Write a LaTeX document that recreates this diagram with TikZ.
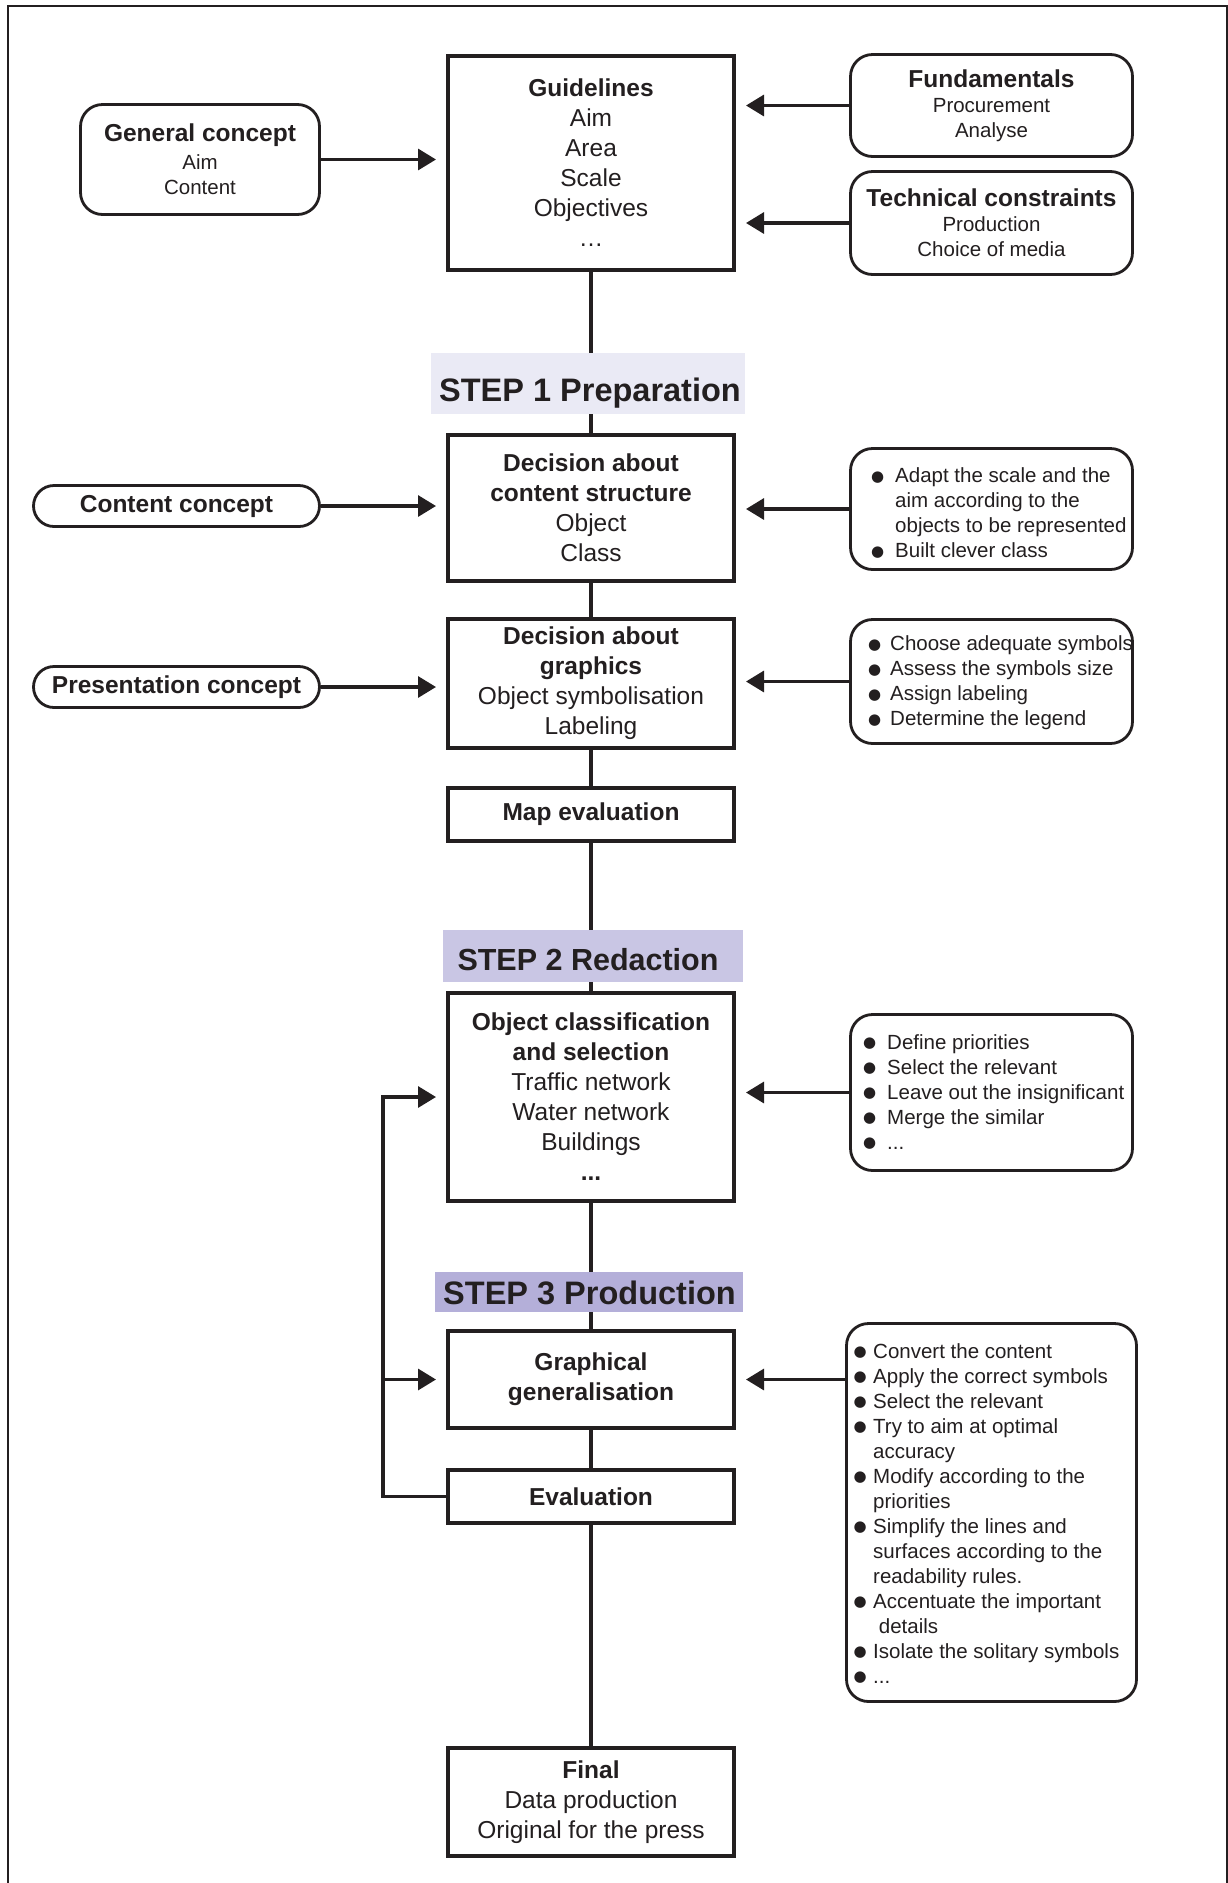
\documentclass[tikz,border=0pt]{standalone}
\usepackage{fontspec}
\setmainfont{Liberation Sans}
\newfontfamily\symfont{DejaVu Sans}
\usetikzlibrary{arrows.meta}
\definecolor{ink}{RGB}{35,31,32}
\definecolor{stepA}{RGB}{234,234,245}
\definecolor{stepB}{RGB}{201,198,228}
\definecolor{stepC}{RGB}{180,175,217}
\newcommand\mfont{\fontsize{24.5}{30}\selectfont}
\newcommand\sfontA{\fontsize{20.5}{25}\selectfont}
\newcommand\hdr[1]{{\bfseries\fontsize{24.5}{25}\selectfont #1}}
\newcommand\bul[1]{\makebox[#1][l]{\raisebox{1.5pt}{\symfont\fontsize{15}{15}\selectfont ●}}}
\begin{document}
\begin{tikzpicture}[x=1pt,y=-1pt,
  mainbox/.style={draw=ink, line width=4pt, fill=white, minimum width=286pt, inner sep=0pt, align=center, font=\mfont, text=ink},
  sidebox/.style={draw=ink, line width=2.8pt, fill=white, rounded corners=22pt, inner sep=0pt, align=center, font=\sfontA, text=ink},
  pillbox/.style={draw=ink, line width=2.8pt, fill=white, rounded corners=20.5pt, inner sep=0pt, minimum width=286pt, minimum height=41pt, font=\bfseries\mfont, text=ink},
  listtext/.style={anchor=west, inner sep=0pt, font=\sfontA, align=left, text=ink},
  conn/.style={draw=ink, line width=3.2pt},
  arr/.style={conn, -{Triangle[length=18pt,width=21pt]}, shorten >=10pt},
  steprect/.style={inner sep=0pt, draw=none},
  steptext/.style={inner sep=0pt, text=ink, text depth=0pt, anchor=center}
]
\useasboundingbox (0,0) rectangle (1228,1883);
% outer frame
\draw[ink, line width=2.5pt] (8,1895) -- (8,6) -- (1227,6) -- (1227,1895);

% main column
\node[mainbox, minimum height=214pt] (guide) at (591,163)
  {\textbf{Guidelines}\\Aim\\Area\\Scale\\Objectives\\…};
\node[mainbox, minimum height=146pt] (dec1) at (591,508)
  {\textbf{Decision about}\\\textbf{content structure}\\Object\\Class};
\node[mainbox, minimum height=129pt] (dec2) at (591,683.5)
  {\textbf{Decision about}\\\textbf{graphics}\\Object symbolisation\\Labeling};
\node[mainbox, minimum height=53pt] (map) at (591,814.5) {\textbf{Map evaluation}};
\node[mainbox, minimum height=208pt] (oc) at (591,1097)
  {\textbf{Object classification}\\\textbf{and selection}\\Traffic network\\Water network\\Buildings\\\textbf{...}};
\node[mainbox, minimum height=97pt] (gg) at (591,1379.5)
  {\textbf{Graphical}\\\textbf{generalisation}};
\node[mainbox, minimum height=53pt] (ev) at (591,1496.5) {\textbf{Evaluation}};
\node[mainbox, minimum height=108pt] (fin) at (591,1802)
  {\textbf{Final}\\Data production\\Original for the press};

% left boxes
\node[sidebox, minimum width=239pt, minimum height=110pt] (gc) at (200,159.5)
  {\hdr{General concept}\\[3pt]Aim\\Content};
\node[pillbox] (cc) at (176.5,506) {Content concept};
\node[pillbox] (pc) at (176.5,687) {Presentation concept};

% right boxes
\node[sidebox, minimum width=282pt, minimum height=102pt] (fund) at (991.5,105.5)
  {\hdr{Fundamentals}\\Procurement\\Analyse};
\node[sidebox, minimum width=282pt, minimum height=103pt] (tech) at (991.5,223)
  {\hdr{Technical constraints}\\Production\\Choice of media};
\node[sidebox, minimum width=282pt, minimum height=121pt] (b1) at (991.5,509) {};
\node[sidebox, minimum width=282pt, minimum height=124pt] (b2) at (991.5,681.5) {};
\node[sidebox, minimum width=282pt, minimum height=156pt] (b3) at (991.5,1092.5) {};
\node[sidebox, minimum width=290pt, minimum height=378pt] (b4) at (991.5,1512.5) {};

\node[listtext] (b1t) at (871,515) {\begin{tabular}{@{}l@{}l@{}}
\bul{24pt} & Adapt the scale and the\\
 & aim according to the\\
 & objects to be represented\\
\bul{24pt} & Built clever class
\end{tabular}};
\node[listtext] (b2t) at (868,683) {\begin{tabular}{@{}l@{}l@{}}
\bul{22pt} & Choose adequate symbols\\
\bul{22pt} & Assess the symbols size\\
\bul{22pt} & Assign labeling\\
\bul{22pt} & Determine the legend
\end{tabular}};
\node[listtext] (b3t) at (863,1094) {\begin{tabular}{@{}l@{}l@{}}
\bul{24pt} & Define priorities\\
\bul{24pt} & Select the relevant\\
\bul{24pt} & Leave out the insignificant\\
\bul{24pt} & Merge the similar\\
\bul{24pt} & ...
\end{tabular}};
\node[listtext] (b4t) at (853.5,1515.5) {\begin{tabular}{@{}l@{}l@{}}
\bul{19.5pt} & Convert the content\\
\bul{19.5pt} & Apply the correct symbols\\
\bul{19.5pt} & Select the relevant\\
\bul{19.5pt} & Try to aim at optimal\\
 & accuracy\\
\bul{19.5pt} & Modify according to the\\
 & priorities\\
\bul{19.5pt} & Simplify the lines and\\
 & surfaces according to the\\
 & readability rules.\\
\bul{19.5pt} & Accentuate the important\\
 & \ details\\
\bul{19.5pt} & Isolate the solitary symbols\\
\bul{19.5pt} & ...
\end{tabular}};

% vertical spine
\draw[conn] (guide.south) -- (dec1.north);
\draw[conn] (dec1.south) -- (dec2.north);
\draw[conn] (dec2.south) -- (map.north);
\draw[conn] (map.south) -- (oc.north);
\draw[conn] (oc.south) -- (gg.north);
\draw[conn] (gg.south) -- (ev.north);
\draw[conn] (ev.south) -- (fin.north);

% arrows into main column
\draw[arr] (gc.east) -- (guide.west |- gc.east);
\draw[arr] (fund.west) -- (guide.east |- fund.west);
\draw[arr] (tech.west) -- (guide.east |- tech.west);
\draw[arr] (cc.east) -- (dec1.west |- cc.east);
\draw[arr] (b1.west) -- (dec1.east |- b1.west);
\draw[arr] (pc.east) -- (dec2.west |- pc.east);
\draw[arr] (b2.west) -- (dec2.east |- b2.west);
\draw[arr] (b3.west) -- (oc.east |- b3.west);
\draw[arr] (b4.west |- gg.east) -- (gg.east);

% feedback loop
\coordinate (lp) at (383,1400);
\draw[arr] (ev.west) -- (ev.west -| lp) -- (lp |- oc.west) -- (oc.west);
\draw[arr] (lp |- gg.west) -- (gg.west);

% step labels
\node[steprect, fill=stepA, minimum width=314pt, minimum height=61pt] (s1box) at (588,383.5) {};
\node[steptext, font=\bfseries\fontsize{32.5}{34}\selectfont] (s1) at (590,390) {STEP 1 Preparation};
\node[steprect, fill=stepB, minimum width=300pt, minimum height=52pt] (s2box) at (593,956) {};
\node[steptext, font=\bfseries\fontsize{30.5}{34}\selectfont] (s2) at (588,959) {STEP 2 Redaction};
\node[steprect, fill=stepC, minimum width=308pt, minimum height=40pt] (s3box) at (589,1292) {};
\node[steptext, font=\bfseries\fontsize{32.5}{34}\selectfont] (s3) at (589.5,1293) {STEP 3 Production};
\end{tikzpicture}
\end{document}
